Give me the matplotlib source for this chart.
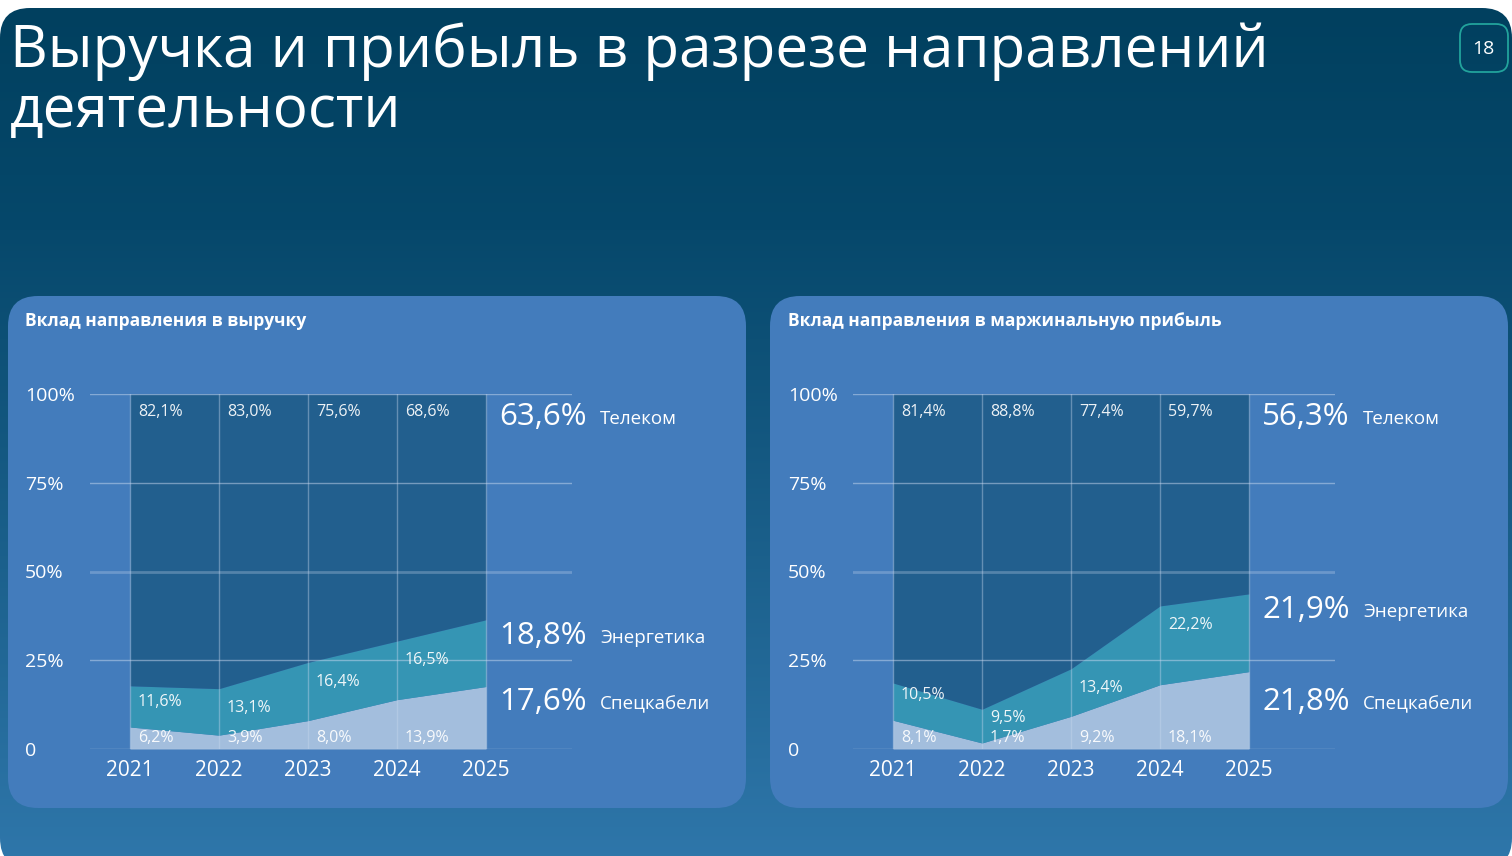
import numpy as np
import matplotlib
matplotlib.use("Agg")
import matplotlib.pyplot as plt
from matplotlib.patches import FancyBboxPatch
from matplotlib.colors import to_rgb

plt.rcParams['font.family'] = ['Open Sans', 'DejaVu Sans']

# данные
years = [2021, 2022, 2023, 2024, 2025]

rev_telecom = [82.1, 83.0, 75.6, 68.6, 63.6]
rev_energy = [11.6, 13.1, 16.4, 16.5, 18.8]
rev_cables = [6.2, 3.9, 8.0, 13.9, 17.6]

mp_telecom = [81.4, 88.8, 77.4, 59.7, 56.3]
mp_energy = [10.5, 9.5, 13.4, 22.2, 21.9]
mp_cables = [8.1, 1.7, 9.2, 18.1, 21.8]

segments = ["Телеком", "Энергетика", "Спецкабели"]
yticks = [0, 25, 50, 75, 100]
ytick_labels = ["0", "25%", "50%", "75%", "100%"]

title = "Выручка и прибыль в разрезе направлений\nдеятельности"
panel_titles = ["Вклад направления в выручку", "Вклад направления в маржинальную прибыль"]

C_TEL = "#225f8e"
C_ENE = "#3595b4"
C_CAB = "#a3bedd"
C_PANEL = "#437cbc"

W, H = 1512, 856
fig = plt.figure(figsize=(W / 100, H / 100), dpi=100)
fig.patch.set_facecolor("white")

bg = fig.add_axes([0, 0, 1, 1])
bg.set_xlim(0, W)
bg.set_ylim(H, 0)
bg.axis("off")

# фон слайда с градиентом
slide = FancyBboxPatch((0, 8), W, 860, boxstyle="round,pad=0,rounding_size=30",
                       facecolor="none", edgecolor="none")
bg.add_patch(slide)
n = 400
ys = np.linspace(8, 868, n)
top_c = np.array(to_rgb("#01405f"))
mid_c = np.array(to_rgb("#06486b"))
bot_c = np.array(to_rgb("#2f77ab"))
t = np.clip((ys - 230) / (868 - 230), 0, 1)[:, None]
grad = np.where(ys[:, None] < 230,
                top_c + (mid_c - top_c) * ((ys[:, None] - 8) / 222),
                mid_c + (bot_c - mid_c) * t)
img = bg.imshow(grad[:, None, :], extent=(0, W, 868, 8), origin="upper",
                aspect="auto", zorder=0)
img.set_clip_path(slide)

bg.text(10, 22, title, color="white", fontsize=42, va="top", ha="left",
        linespacing=1.05)

badge = FancyBboxPatch((1460, 24), 48, 48, boxstyle="round,pad=0,rounding_size=12",
                       facecolor="none", edgecolor="#22a39c", linewidth=1.3)
bg.add_patch(badge)
bg.text(1483, 49, "18", color="white", fontsize=14, ha="center", va="center")

for px in [8, 770]:
    bg.add_patch(FancyBboxPatch((px, 296), 738, 512,
                                boxstyle="round,pad=0,rounding_size=30",
                                facecolor=C_PANEL, edgecolor="none", zorder=1))


def draw_chart(x0, ptitle, tel, ene, cab):
    bg.text(x0 + 17, 321, ptitle, color="white", fontsize=12.5, fontweight="bold",
            ha="left", va="center", zorder=3)
    gl, gr = x0 + 82, x0 + 564
    ax = fig.add_axes([gl / W, 1 - 749 / H, (gr - gl) / W, (749 - 394) / H])
    ax.set_facecolor("none")
    step = 89.0
    ax.set_xlim(2021 - 40 / step, 2025 + 86 / step)
    ax.set_ylim(0, 100)
    for s in ax.spines.values():
        s.set_visible(False)

    cab = np.array(cab)
    ene_top = cab + np.array(ene)
    ax.fill_between(years, 0, cab, color=C_CAB, lw=0, zorder=2)
    ax.fill_between(years, cab, ene_top, color=C_ENE, lw=0, zorder=2)
    ax.fill_between(years, ene_top, 100, color=C_TEL, lw=0, zorder=2)

    for yv in yticks:
        if yv == 50:
            ax.axhline(yv, color="#c8d8ee", lw=2.0, alpha=0.3, zorder=3)
        else:
            ax.axhline(yv, color="#c8d8ee", lw=1.0, alpha=0.5, zorder=3)
    for yr in years:
        ax.axvline(yr, color="#c8d8ee", lw=1.0, alpha=0.4, zorder=3)

    ax.set_yticks(yticks)
    ax.set_yticklabels(ytick_labels)
    ax.set_xticks(years)
    ax.set_xticklabels([str(y) for y in years])
    ax.tick_params(axis="y", length=0, pad=(gl - (x0 + 17)) * 0.72,
                   labelcolor="white", labelsize=14)
    ax.tick_params(axis="x", length=0, pad=8, labelcolor="white", labelsize=15)
    for lb in ax.get_yticklabels():
        lb.set_ha("left")

    dx = 8 / step
    for i, yr in enumerate(years[:-1]):
        kw = dict(color="white", fontsize=11.5, ha="left", va="center", zorder=4)
        ax.text(yr + dx, 94.8, f"{tel[i]:.1f}%".replace(".", ","), alpha=0.92, **kw)
        ey = max(ene_top[i] - 5.4, cab[i] + 7)
        ax.text(yr + dx, ey, f"{ene[i]:.1f}%".replace(".", ","), alpha=0.92, **kw)
        ax.text(yr + dx, 3.2, f"{cab[i]:.1f}%".replace(".", ","), alpha=0.92, **kw)

    bx = 2025 + 13 / step
    nx = 2025 + 114 / step
    big_y = [93.5, ene_top[-1] - 4.5, 13.2]
    vals = [tel[-1], ene[-1], cab[-1]]
    for name, v, yy in zip(segments, vals, big_y):
        ax.text(bx, yy, f"{v:.1f}%".replace(".", ","), color="white", fontsize=22.5,
                ha="left", va="center", zorder=4)
        ax.text(nx, yy - 0.6, name, color="white", fontsize=13.5,
                ha="left", va="center", zorder=4)


draw_chart(8, panel_titles[0], rev_telecom, rev_energy, rev_cables)
draw_chart(771, panel_titles[1], mp_telecom, mp_energy, mp_cables)

fig.savefig("out.png", dpi=100, facecolor=fig.get_facecolor())
